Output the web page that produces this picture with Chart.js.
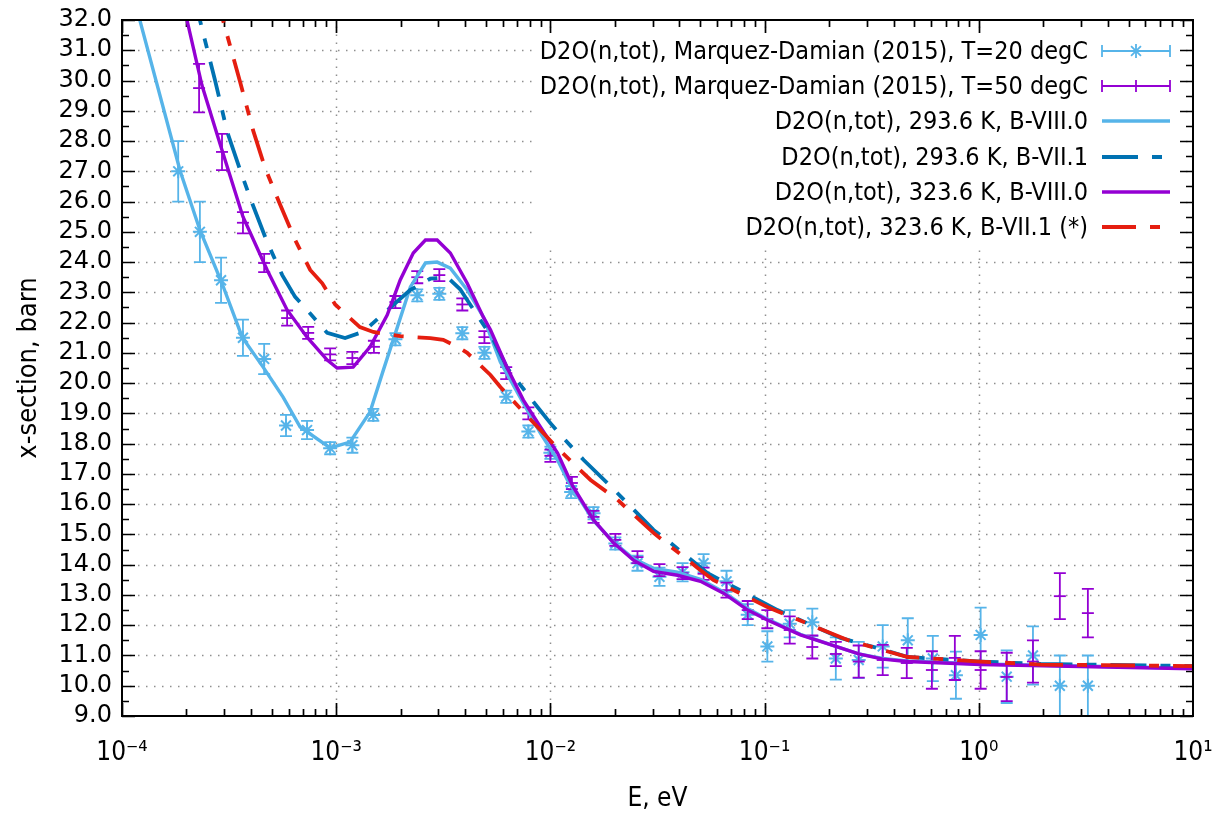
<!DOCTYPE html>
<html>
<head>
<meta charset="utf-8">
<script src="https://cdn.jsdelivr.net/npm/chart.js@4.4.1/dist/chart.umd.min.js"></script>
<style>
  html, body { margin: 0; padding: 0; background: #ffffff; }
  #wrap { width: 1213px; height: 818px; }
</style>
</head>
<body>
<div id="wrap"><canvas id="c" width="1213" height="818"></canvas></div>
<script>
// ---------------- data ----------------
const xTickValues = [1e-4, 1e-3, 1e-2, 1e-1, 1, 10];
const xTickLabels = ['10\u207B\u2074', '10\u207B\u00B3', '10\u207B\u00B2', '10\u207B\u00B9', '10\u2070', '10\u00B9'];

const seriesLabels = [
  'D2O(n,tot), Marquez-Damian (2015), T=20 degC',
  'D2O(n,tot), Marquez-Damian (2015), T=50 degC',
  'D2O(n,tot), 293.6 K, B-VIII.0',
  'D2O(n,tot), 293.6 K, B-VII.1',
  'D2O(n,tot), 323.6 K, B-VIII.0',
  'D2O(n,tot), 323.6 K, B-VII.1 (*)'
];

// Experiment, T = 20 degC
const exp20E = [1.83e-4, 2.31e-4, 2.90e-4, 3.67e-4, 4.61e-4, 5.83e-4, 7.31e-4, 9.37e-4, 1.19e-3, 1.49e-3,
  1.89e-3, 2.39e-3, 3.03e-3, 3.88e-3, 4.92e-3, 6.22e-3, 7.89e-3, 1.00e-2, 1.25e-2, 1.59e-2,
  2.01e-2, 2.55e-2, 3.23e-2, 4.14e-2, 5.19e-2, 6.64e-2, 8.34e-2, 1.03e-1, 1.31e-1, 1.67e-1,
  2.15e-1, 2.75e-1, 3.56e-1, 4.66e-1, 6.10e-1, 7.82e-1, 1.02, 1.35, 1.79, 2.39, 3.23];
const exp20Sig = [27.0, 25.0, 23.4, 21.5, 20.8, 18.6, 18.45, 17.85, 17.95, 18.95,
  21.45, 22.9, 22.95, 21.65, 21.0, 19.55, 18.4, 17.7, 16.4, 15.7,
  14.7, 14.05, 13.6, 13.75, 14.05, 13.45, 12.35, 11.3, 12.05, 12.1,
  10.9, 10.85, 11.3, 11.5, 10.9, 10.35, 11.68, 10.3, 11.0, 10.0, 10.0];
const exp20Err = [1.0, 1.0, 0.75, 0.6, 0.5, 0.35, 0.3, 0.2, 0.25, 0.2,
  0.2, 0.2, 0.2, 0.2, 0.2, 0.2, 0.2, 0.2, 0.2, 0.2,
  0.2, 0.25, 0.3, 0.3, 0.3, 0.35, 0.35, 0.5, 0.45, 0.45,
  0.7, 0.6, 0.7, 0.73, 0.75, 0.78, 0.9, 0.87, 0.96, 1.0, 1.0];

// Experiment, T = 50 degC
const exp50E = [2.29e-4, 2.93e-4, 3.67e-4, 4.61e-4, 5.90e-4, 7.40e-4, 9.37e-4, 1.19e-3, 1.50e-3, 1.89e-3,
  2.39e-3, 3.03e-3, 3.88e-3, 4.92e-3, 6.22e-3, 7.89e-3, 1.00e-2, 1.26e-2, 1.59e-2, 2.01e-2,
  2.55e-2, 3.23e-2, 4.14e-2, 5.19e-2, 6.64e-2, 8.34e-2, 1.03e-1, 1.31e-1, 1.67e-1, 2.15e-1,
  2.75e-1, 3.56e-1, 4.61e-1, 6.04e-1, 7.73e-1, 1.02, 1.35, 1.79, 2.39, 3.23];
const exp50Sig = [29.75, 27.64, 25.3, 23.97, 22.15, 21.66, 20.95, 20.83, 21.2, 22.68,
  23.5, 23.57, 22.6, 21.52, 20.33, 19.0, 17.6, 16.7, 15.58, 14.82,
  14.25, 13.82, 13.72, 13.7, 13.16, 12.5, 12.2, 11.84, 11.28, 11.05,
  10.8, 10.85, 10.75, 10.52, 10.92, 10.52, 10.29, 10.8, 12.96, 12.4];
const exp50Err = [0.8, 0.6, 0.35, 0.3, 0.25, 0.2, 0.2, 0.2, 0.2, 0.2,
  0.2, 0.2, 0.2, 0.2, 0.2, 0.2, 0.2, 0.2, 0.2, 0.2,
  0.2, 0.2, 0.2, 0.2, 0.25, 0.3, 0.3, 0.45, 0.38, 0.4,
  0.53, 0.5, 0.5, 0.62, 0.73, 0.62, 0.8, 0.7, 0.76, 0.8];

// Evaluated curves
const b80_293E = [1.00e-4, 1.87e-4, 2.31e-4, 2.93e-4, 3.64e-4, 4.56e-4, 5.65e-4, 6.79e-4, 9.37e-4, 1.16e-3,
  1.44e-3, 1.66e-3, 1.93e-3, 2.22e-3, 2.61e-3, 2.96e-3, 3.41e-3, 4.09e-3, 4.86e-3, 5.84e-3,
  7.48e-3, 8.98e-3, 1.08e-2, 1.20e-2, 1.59e-2, 1.97e-2, 2.44e-2, 3.03e-2, 3.92e-2, 5.02e-2,
  6.43e-2, 8.34e-2, 1.03e-1, 1.47e-1, 2.15e-1, 2.75e-1, 3.56e-1, 4.61e-1, 1.02, 10];
const b80_293Sig = [34.2, 27.0, 25.06, 23.3, 21.52, 20.53, 19.54, 18.55, 17.86, 18.05,
  19.05, 20.43, 21.85, 23.18, 23.97, 24.0, 23.8, 23.08, 22.19, 20.7,
  19.34, 18.35, 17.46, 16.8, 15.45, 14.75, 14.2, 13.88, 13.75, 13.52,
  13.1, 12.55, 12.2, 11.7, 11.3, 11.05, 10.9, 10.82, 10.72, 10.58];

const b71_293E = [2.15e-4, 2.31e-4, 2.72e-4, 3.10e-4, 3.56e-4, 4.05e-4, 4.76e-4, 5.60e-4, 6.43e-4, 7.56e-4,
  9.08e-4, 1.10e-3, 1.34e-3, 1.79e-3, 2.22e-3, 2.75e-3, 3.30e-3, 3.79e-3, 5.42e-3, 6.29e-3,
  8.70e-3, 1.00e-2, 1.11e-2, 1.43e-2, 1.95e-2, 3.03e-2, 3.52e-2, 5.42e-2, 1.15e-1, 2.26e-1,
  3.56e-1, 4.66e-1, 1.02, 1.95, 10];
const b71_293Sig = [33.0, 32.0, 30.0, 28.3, 27.04, 25.95, 24.66, 23.57, 22.85, 22.3,
  21.66, 21.49, 21.7, 22.5, 23.08, 23.45, 23.5, 23.1, 21.43, 20.5,
  19.21, 18.68, 18.3, 17.46, 16.53, 15.15, 14.8, 13.72, 12.5, 11.58,
  11.2, 10.95, 10.8, 10.72, 10.65];

const b80_323E = [1.83e-4, 2.01e-4, 2.36e-4, 2.87e-4, 3.67e-4, 4.76e-4, 5.90e-4, 7.31e-4, 9.08e-4, 1.01e-3,
  1.20e-3, 1.44e-3, 1.73e-3, 1.99e-3, 2.29e-3, 2.61e-3, 2.96e-3, 3.41e-3, 4.09e-3, 4.86e-3,
  5.25e-3, 6.29e-3, 7.48e-3, 8.98e-3, 1.08e-2, 1.27e-2, 1.59e-2, 1.97e-2, 2.44e-2, 3.03e-2,
  3.92e-2, 5.02e-2, 6.43e-2, 8.34e-2, 1.03e-1, 1.47e-1, 2.15e-1, 2.75e-1, 3.56e-1, 4.61e-1, 1.02, 10];
const b80_323Sig = [33.3, 32.0, 29.85, 27.9, 25.5, 23.74, 22.42, 21.52, 20.76, 20.5,
  20.53, 21.2, 22.25, 23.41, 24.3, 24.73, 24.73, 24.3, 23.3, 22.19,
  21.76, 20.5, 19.44, 18.55, 17.69, 16.6, 15.48, 14.72, 14.15, 13.78,
  13.65, 13.45, 13.06, 12.5, 12.17, 11.68, 11.3, 11.05, 10.88, 10.8, 10.7, 10.56];

const b71_323E = [2.72e-4, 2.96e-4, 3.56e-4, 4.09e-4, 4.66e-4, 5.47e-4, 6.43e-4, 7.56e-4, 8.61e-4, 9.89e-4,
  1.29e-3, 1.49e-3, 1.99e-3, 2.75e-3, 3.16e-3, 3.68e-3, 4.09e-3, 5.25e-3, 5.84e-3, 8.98e-3,
  1.08e-2, 1.54e-2, 2.06e-2, 3.03e-2, 5.02e-2, 5.78e-2, 1.03e-1, 2.44e-1, 3.56e-1, 4.66e-1,
  1.02, 1.95, 10];
const b71_323Sig = [33.0, 32.0, 29.95, 28.36, 27.1, 25.9, 24.73, 23.74, 23.3, 22.6,
  21.85, 21.69, 21.55, 21.49, 21.43, 21.2, 21.0, 20.27, 19.87, 18.45,
  17.85, 16.8, 16.14, 15.05, 13.82, 13.49, 12.6, 11.51, 11.18, 10.95,
  10.8, 10.7, 10.65];

// ---------------- styling ----------------
const FONT_C = '"DejaVu Sans Condensed", "DejaVu Sans", sans-serif';
const FONT_R = '"DejaVu Sans", sans-serif';
const C_LB = '#56b4e9', C_BD = '#0072b2', C_PS = '#9400d3', C_RD = '#e51e10';

const pts = (xs, ys) => xs.map((x, i) => ({ x: x, y: ys[i] }));

const datasets = [
  { label: seriesLabels[0], data: pts(exp20E, exp20Sig), errors: exp20Err, showLine: false,
    pointStyle: 'star', pointRadius: 7, borderColor: C_LB, backgroundColor: C_LB, pointBorderWidth: 2, order: 6 },
  { label: seriesLabels[1], data: pts(exp50E, exp50Sig), errors: exp50Err, showLine: false,
    pointStyle: 'line', pointRadius: 6, borderColor: C_PS, backgroundColor: C_PS, pointBorderWidth: 1.8, order: 5 },
  { label: seriesLabels[2], data: pts(b80_293E, b80_293Sig), borderColor: C_LB, borderWidth: 3.4,
    pointRadius: 0, tension: 0, order: 4 },
  { label: seriesLabels[3], data: pts(b71_293E, b71_293Sig), borderColor: C_BD, borderWidth: 3.8,
    borderDash: [36, 14, 10, 14], pointRadius: 0, tension: 0, order: 3 },
  { label: seriesLabels[4], data: pts(b80_323E, b80_323Sig), borderColor: C_PS, borderWidth: 3.4,
    pointRadius: 0, tension: 0, order: 2 },
  { label: seriesLabels[5], data: pts(b71_323E, b71_323Sig), borderColor: C_RD, borderWidth: 3.8,
    borderDash: [34, 14, 10, 14], pointRadius: 0, tension: 0, order: 1 }
];

// ---------------- plugins ----------------
const frame = {
  id: 'frame',
  beforeDatasetsDraw(chart) {
    const { ctx, chartArea: a, scales: { x, y } } = chart;
    ctx.save();
    // dotted grid
    ctx.strokeStyle = '#8f8f8f';
    ctx.lineWidth = 1.5;
    ctx.setLineDash([1.5, 6.5]);
    for (let k = -3; k <= 0; k++) {
      const px = Math.round(x.getPixelForValue(Math.pow(10, k))) + 0.5;
      ctx.beginPath(); ctx.moveTo(px, a.bottom); ctx.lineTo(px, a.top); ctx.stroke();
    }
    for (let v = 10; v <= 31; v++) {
      const py = Math.round(y.getPixelForValue(v)) + 0.5;
      ctx.beginPath(); ctx.moveTo(a.left, py); ctx.lineTo(a.right, py); ctx.stroke();
    }
    ctx.setLineDash([]);
    // key box background covers the grid
    ctx.fillStyle = '#ffffff';
    ctx.fillRect(534, 33, 646, 212);
    // tics (inward) on all four sides
    ctx.strokeStyle = '#000000';
    ctx.lineWidth = 1.7;
    for (let k = -4; k <= 0; k++) {
      for (let m = 1; m <= 9; m++) {
        const v = m * Math.pow(10, k);
        const px = Math.round(x.getPixelForValue(v)) + 0.5;
        const len = m === 1 ? 13 : 7;
        ctx.beginPath();
        ctx.moveTo(px, a.bottom); ctx.lineTo(px, a.bottom - len);
        ctx.moveTo(px, a.top); ctx.lineTo(px, a.top + len);
        ctx.stroke();
      }
    }
    for (let i = 0; i <= 46; i++) {
      const v = 9 + i * 0.5;
      const py = Math.round(y.getPixelForValue(v)) + 0.5;
      const len = i % 2 === 0 ? 13 : 7;
      ctx.beginPath();
      ctx.moveTo(a.left, py); ctx.lineTo(a.left + len, py);
      ctx.moveTo(a.right, py); ctx.lineTo(a.right - len, py);
      ctx.stroke();
    }
    ctx.restore();
  },
  afterDatasetDraw(chart, args) {
    const ds = chart.data.datasets[args.index];
    if (!ds.errors) return;
    const { ctx, chartArea: a, scales: { x, y } } = chart;
    ctx.save();
    ctx.beginPath(); ctx.rect(a.left, a.top, a.right - a.left, a.bottom - a.top); ctx.clip();
    ctx.strokeStyle = ds.borderColor;
    ctx.lineWidth = 1.8;
    ds.data.forEach((p, i) => {
      const e = ds.errors[i];
      const px = x.getPixelForValue(p.x);
      const y1 = y.getPixelForValue(p.y + e), y2 = y.getPixelForValue(p.y - e);
      ctx.beginPath();
      ctx.moveTo(px, y1); ctx.lineTo(px, y2);
      ctx.moveTo(px - 6, y1); ctx.lineTo(px + 6, y1);
      ctx.moveTo(px - 6, y2); ctx.lineTo(px + 6, y2);
      ctx.stroke();
    });
    ctx.restore();
  },
  afterDraw(chart) {
    const { ctx, chartArea: a } = chart;
    ctx.save();
    ctx.strokeStyle = '#000000';
    ctx.lineWidth = 2;
    ctx.strokeRect(a.left, a.top, a.right - a.left, a.bottom - a.top);
    // key
    const textRight = 1088, s0 = 1102, s1 = 1170, top = 51, step = 35.2;
    ctx.font = '25px ' + FONT_C;
    ctx.textAlign = 'right';
    ctx.textBaseline = 'middle';
    chart.data.datasets.forEach((ds, i) => {
      const yy = Math.round(top + i * step);
      ctx.fillStyle = '#000000';
      ctx.fillText(ds.label, textRight, yy + 1);
      ctx.strokeStyle = ds.borderColor;
      if (ds.errors) {
        ctx.lineWidth = 1.8;
        ctx.setLineDash([]);
        ctx.beginPath();
        ctx.moveTo(s0, yy); ctx.lineTo(s1, yy);
        ctx.moveTo(s0, yy - 6); ctx.lineTo(s0, yy + 6);
        ctx.moveTo(s1, yy - 6); ctx.lineTo(s1, yy + 6);
        ctx.stroke();
        const cx = (s0 + s1) / 2;
        ctx.beginPath();
        if (ds.pointStyle === 'star') {
          const r = 7, d = r * Math.SQRT1_2;
          ctx.moveTo(cx - r, yy); ctx.lineTo(cx + r, yy);
          ctx.moveTo(cx, yy - r); ctx.lineTo(cx, yy + r);
          ctx.moveTo(cx - d, yy - d); ctx.lineTo(cx + d, yy + d);
          ctx.moveTo(cx - d, yy + d); ctx.lineTo(cx + d, yy - d);
        } else {
          ctx.moveTo(cx, yy - 6); ctx.lineTo(cx, yy + 6);
        }
        ctx.stroke();
      } else {
        ctx.lineWidth = ds.borderWidth;
        ctx.setLineDash(ds.borderDash || []);
        ctx.beginPath(); ctx.moveTo(s0, yy); ctx.lineTo(s1, yy); ctx.stroke();
        ctx.setLineDash([]);
      }
    });
    ctx.restore();
  }
};

Chart.defaults.font.family = FONT_C;
Chart.defaults.color = '#000000';

const zeroPad = (s) => { s.paddingTop = 0; s.paddingBottom = 0; s.paddingLeft = 0; s.paddingRight = 0; };

new Chart(document.getElementById('c'), {
  type: 'line',
  data: { datasets: datasets },
  plugins: [frame],
  options: {
    responsive: false,
    animation: false,
    layout: { padding: { left: 0, right: 20, top: 20, bottom: 0 } },
    plugins: { legend: { display: false }, tooltip: { enabled: false } },
    scales: {
      x: {
        type: 'logarithmic', min: 1e-4, max: 10,
        grid: { display: false }, border: { display: false },
        afterBuildTicks: (s) => { s.ticks = xTickValues.map(v => ({ value: v })); },
        ticks: {
          autoSkip: false, maxRotation: 0, padding: 14,
          font: { size: 26, family: FONT_C },
          callback: (v) => { const i = xTickValues.indexOf(v); return i >= 0 ? xTickLabels[i] : ''; }
        },
        title: { display: true, text: 'E, eV', font: { size: 26, family: FONT_C }, padding: { top: 0, bottom: 3 } },
        afterFit: (s) => { s.height = 102; zeroPad(s); }
      },
      y: {
        type: 'linear', min: 9, max: 32,
        grid: { display: false, drawTicks: false }, border: { display: false },
        ticks: { stepSize: 1, autoSkip: false, padding: 10, font: { size: 24, family: FONT_R },
          callback: (v) => Number(v).toFixed(1) },
        title: { display: true, text: 'x-section, barn', font: { size: 27, family: FONT_C }, padding: { top: 13, bottom: 0 } },
        afterFit: (s) => { s.width = 122; zeroPad(s); }
      }
    }
  }
});
</script>
</body>
</html>
